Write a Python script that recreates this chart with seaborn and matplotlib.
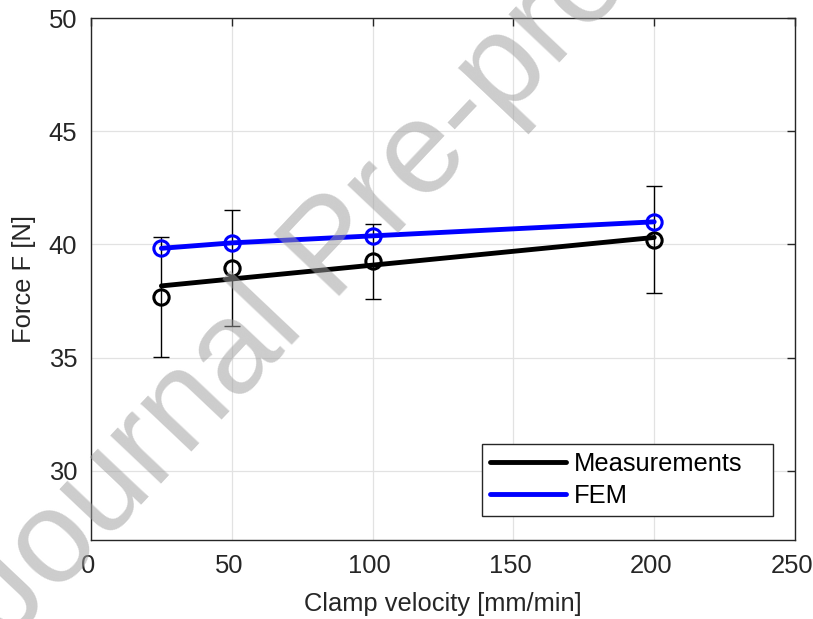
import matplotlib
matplotlib.use("Agg")
import numpy as np
import pandas as pd
import matplotlib.pyplot as plt
import matplotlib.transforms as mtransforms
import seaborn as sns
from matplotlib.lines import Line2D

# ---- data ----
velocity = [25, 50, 100, 200]                 # Clamp velocity [mm/min]
meas_force = [37.70, 38.95, 39.25, 40.20]     # measured force [N]
meas_std = [2.65, 2.57, 1.65, 2.36]           # error bar half-lengths [N]
fem_force = [39.83, 40.07, 40.38, 41.00]      # FEM force [N]
fit_velocity = [25, 200]                      # fitted measurement line ends
fit_force = [38.17, 40.31]
x_ticks = [0, 50, 100, 150, 200, 250]
y_ticks = [30, 35, 40, 45, 50]
legend_labels = ["Measurements", "FEM"]

sns.set_theme(style="white")
plt.rcParams["font.family"] = ["Liberation Sans", "DejaVu Sans"]

W, H = 813, 619
fig = plt.figure(figsize=(W / 100, H / 100), dpi=100)
ax = fig.add_axes([91 / W, 1 - 540 / H, 704 / W, 522 / H])

ax.grid(True, color="#e2e2e2", lw=0.9)
ax.set_axisbelow(True)

# error bars
ax.errorbar(velocity, meas_force, yerr=meas_std, fmt="none", ecolor="black",
            elinewidth=1.0, capsize=5.8, capthick=1.0, zorder=2)

# fitted measurement line
sns.lineplot(x=fit_velocity, y=fit_force, color="black", lw=3.5, ax=ax, zorder=3)
# measurement markers
sns.lineplot(x=velocity, y=meas_force, ax=ax, linestyle="none", marker="o",
             ms=11, mfc="none", mec="black", mew=2.2, color="black", zorder=4)
# FEM
sns.lineplot(x=velocity, y=fem_force, ax=ax, color="blue", lw=3.5, marker="o",
             ms=11, mfc="none", mec="blue", mew=2.2, zorder=5)

ax.set_xlim(0, 250)
ax.set_ylim(26.95, 50)
ax.set_xticks(x_ticks)
ax.set_yticks(y_ticks)
ax.tick_params(direction="in", length=5.8, width=1.0, top=True, right=True,
               colors="#262626", labelsize=18.4, pad=10)
shift = mtransforms.ScaledTranslation(-3 / 100, 0, fig.dpi_scale_trans)
for lab in ax.get_xticklabels():
    lab.set_transform(lab.get_transform() + shift)
for s in ax.spines.values():
    s.set_color("#262626")
    s.set_linewidth(1.0)
    s.set_visible(True)

ax.set_xlabel("Clamp velocity [mm/min]", fontsize=18.4, color="#262626")
ax.set_ylabel("Force F [N]", fontsize=18.4, color="#262626")
ax.xaxis.set_label_coords(0.5, -0.100)
ax.yaxis.set_label_coords(-0.078, 0.5)

handles = [Line2D([], [], color="black", lw=3.5), Line2D([], [], color="blue", lw=3.5)]
leg = ax.legend(handles, legend_labels, loc="lower right",
                bbox_to_anchor=(0.5554, 0.046, 0.4134, 0.14), mode="expand",
                borderaxespad=0, fontsize=18.4, frameon=True, fancybox=False,
                edgecolor="#262626", framealpha=1, handlelength=3.0,
                handletextpad=0.3, borderpad=0.3, labelspacing=0.34)
leg.get_frame().set_linewidth(1.0)
for t in leg.get_texts():
    t.set_color("black")

# watermark
fig.text(9 / W, 1 - 644 / H, "Journal Pre-proof", rotation=46.6,
         rotation_mode="anchor", ha="left", va="baseline", fontsize=95,
         color=(0.625, 0.625, 0.625), alpha=0.53,
         zorder=10, family="Liberation Sans")

fig.savefig("out.png", dpi=100)
